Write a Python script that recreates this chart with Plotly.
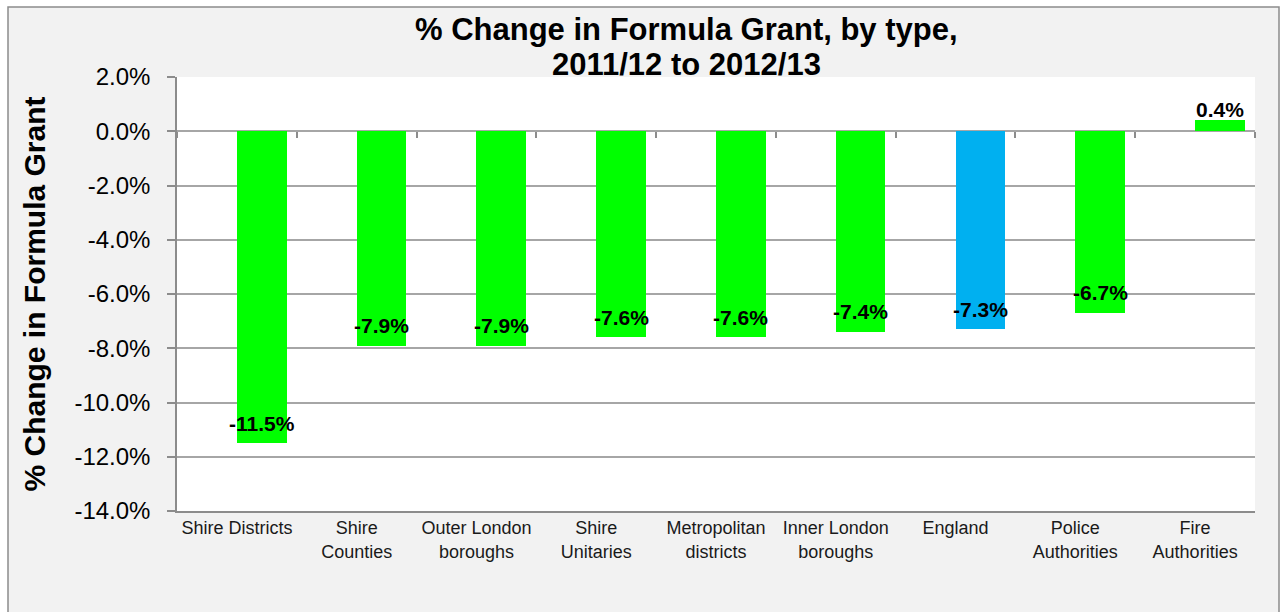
import plotly.graph_objects as go

categories = ["Shire Districts", "Shire<br>Counties", "Outer London<br>boroughs", "Shire<br>Unitaries",
              "Metropolitan<br>districts", "Inner London<br>boroughs", "England", "Police<br>Authorities",
              "Fire<br>Authorities"]
values = [-11.5, -7.9, -7.9, -7.6, -7.6, -7.4, -7.3, -6.7, 0.4]
colors = ["#00ff00"] * 6 + ["#00b0f0"] + ["#00ff00"] * 2
y_tickvals = [2, 0, -2, -4, -6, -8, -10, -12, -14]
y_ticktext = ["2.0%", "0.0%", "-2.0%", "-4.0%", "-6.0%", "-8.0%", "-10.0%", "-12.0%", "-14.0%"]
title_lines = ["% Change in Formula Grant, by type,", "2011/12 to 2012/13"]

FONT = "Liberation Sans, Arial, sans-serif"
BAR_W = 0.415

# plot-area pixel geometry (for placing texts / frame in paper coords)
PL, PR, PT, PB = 177, 1255, 77, 511
PW, PH = PR - PL, PB - PT


def px_x(x):
    return (x - PL) / PW


def px_y(y):
    return (PB - y) / PH


fig = go.Figure()
fig.add_trace(go.Bar(x=categories, y=values, marker=dict(color=colors, line=dict(width=0)),
                     width=BAR_W, offset=0, hoverinfo="skip", showlegend=False))
# helper trace for the tick marks along the zero line
fig.add_trace(go.Scatter(x=categories, y=values, xaxis="x2", mode="markers",
                         marker=dict(opacity=0), hoverinfo="skip", showlegend=False))

annotations = []
for i, v in enumerate(values):
    annotations.append(dict(x=i + BAR_W / 2, y=v, xref="x", yref="y", text=f"<b>{v:.1f}%</b>",
                            showarrow=False, yshift=(20 if v < 0 else 11),
                            font=dict(family=FONT, size=21, color="#000000")))
for line, ypix in zip(title_lines, [30, 65]):
    annotations.append(dict(x=px_x(686), y=px_y(ypix), xref="paper", yref="paper", text=f"<b>{line}</b>",
                            showarrow=False, xanchor="center", yanchor="middle",
                            font=dict(family=FONT, size=31, color="#000000")))

shapes = [
    dict(type="rect", xref="paper", yref="paper", x0=px_x(8), x1=px_x(1279), y0=px_y(640), y1=px_y(7),
         fillcolor="#f2f2f2", line=dict(color="#8c8c8c", width=1.5), layer="below"),
    dict(type="rect", xref="paper", yref="paper", x0=0, x1=1, y0=0, y1=1,
         fillcolor="#ffffff", line=dict(width=0), layer="below"),
]

fig.update_layout(
    width=1282, height=612,
    margin=dict(l=PL, r=1282 - PR, t=PT, b=612 - PB),
    paper_bgcolor="#ffffff", plot_bgcolor="rgba(0,0,0,0)",
    font=dict(family=FONT, color="#000000"),
    xaxis=dict(type="category", range=[-0.5, 8.5], showline=True, linecolor="#8c8c8c", linewidth=1.5,
               ticks="", showgrid=False, tickfont=dict(family=FONT, size=18, color="#1a1a1a"),
               fixedrange=True),
    xaxis2=dict(type="category", overlaying="x", anchor="free", position=0.875, range=[-0.5, 8.5],
                showticklabels=False, ticks="outside", tickson="boundaries", ticklen=6,
                tickcolor="#8c8c8c", tickwidth=1.5, showline=False, showgrid=False),
    yaxis=dict(range=[-14, 2], tickvals=y_tickvals, ticktext=y_ticktext,
               showgrid=True, gridcolor="#a6a6a6", gridwidth=1.5, zeroline=False,
               showline=True, linecolor="#8c8c8c", linewidth=1.5,
               ticks="outside", ticklen=8, tickcolor="#8c8c8c", tickwidth=1.5, ticklabelstandoff=12,
               tickfont=dict(family=FONT, size=24, color="#000000"),
               title=dict(text="<b>% Change in Formula Grant</b>", standoff=20,
                          font=dict(family=FONT, size=30, color="#000000"))),
    annotations=annotations,
    shapes=shapes,
    bargap=0,
)

fig.write_html("out.html")
